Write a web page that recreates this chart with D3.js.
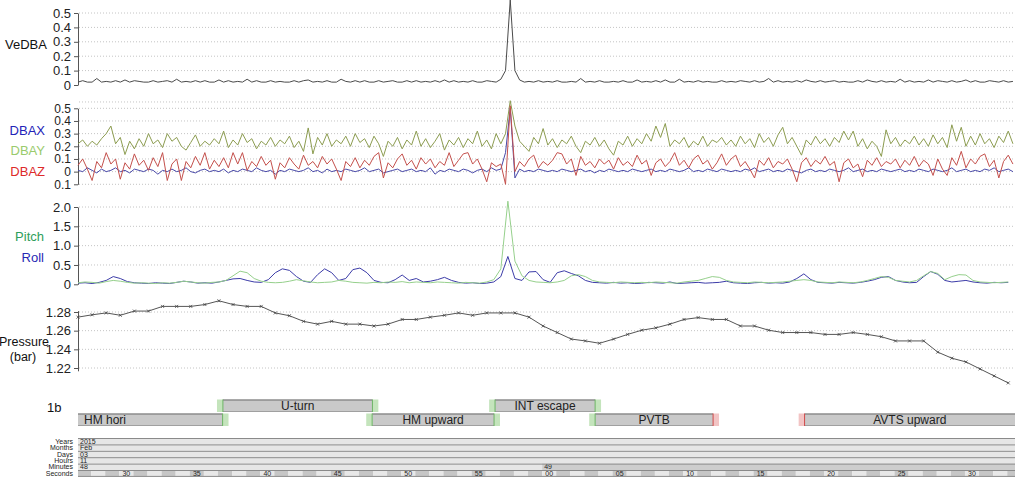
<!DOCTYPE html>
<html lang="en">
<head>
<meta charset="UTF-8">
<title>1b</title>
<style>
  body { margin: 0; background: #fff; }
  svg { font-family: "Liberation Sans", Arial, sans-serif; }
  .grid line { stroke: #c4c4c4; stroke-dasharray: 1 2; }
  .axis path, .axis line { stroke: #555; }
  .axis text { font-size: 13px; fill: #222; }
  .axis.tight text { font-size: 12px; }
  .trace { fill: none; stroke-width: 1; stroke-linejoin: round; }
</style>
</head>
<body>
<div id="chart"></div>
<script src="https://cdnjs.cloudflare.com/ajax/libs/d3/7.8.5/d3.min.js"></script>
<script>
// seconds after 11:48:00 on 2015-02-03
const tStart = 27.07
const tEnd = 93.55

// 3 Hz dynamic body acceleration
const vedba = [0.02,0.03,0.02,0.02,0.045,0.02,0.025,0.02,0.03,0.02,0.035,0.02,0.03,0.025,0.02,0.02,0.03,0.02,0.025,0.03,
  0.02,0.04,0.02,0.025,0.02,0.03,0.02,0.03,0.02,0.02,0.035,0.02,0.03,0.02,0.025,0.02,0.04,0.02,0.03,0.02,
  0.02,0.03,0.02,0.025,0.02,0.02,0.03,0.02,0.03,0.035,0.02,0.025,0.02,0.03,0.02,0.02,0.04,0.025,0.02,0.03,
  0.02,0.03,0.02,0.02,0.03,0.02,0.025,0.03,0.02,0.02,0.03,0.02,0.03,0.02,0.025,0.02,0.03,0.02,0.035,0.02,
  0.03,0.02,0.025,0.02,0.03,0.02,0.02,0.03,0.025,0.02,0.04,0.1,0.59,0.1,0.035,0.02,0.025,0.02,0.03,0.02,
  0.025,0.02,0.03,0.02,0.02,0.025,0.02,0.045,0.02,0.025,0.02,0.03,0.02,0.02,0.025,0.02,0.03,0.02,0.02,0.035,
  0.02,0.025,0.02,0.03,0.02,0.035,0.02,0.02,0.04,0.02,0.025,0.02,0.03,0.02,0.025,0.02,0.02,0.03,0.02,0.025,
  0.02,0.03,0.025,0.02,0.03,0.02,0.025,0.045,0.02,0.03,0.02,0.025,0.02,0.03,0.02,0.035,0.025,0.02,0.03,0.02,
  0.025,0.03,0.02,0.025,0.02,0.02,0.03,0.02,0.035,0.025,0.02,0.03,0.02,0.025,0.02,0.04,0.02,0.03,0.02,0.025,
  0.02,0.035,0.02,0.03,0.025,0.02,0.03,0.02,0.025,0.035,0.02,0.03,0.02,0.02,0.03,0.025,0.02,0.03,0.02,0.025]

const dbax = [0.01,0,0.03,0.01,-0.01,0.02,0,0.01,0.03,0,0.01,-0.01,0.02,0.01,0,0.02,0.01,-0.02,0.01,0,
  0.02,0,0.01,0.03,0,-0.01,0.01,0.02,0,0.01,0,0.02,-0.01,0.01,0,0.02,0.01,0,0.03,0.01,
  0,0.01,-0.02,0.01,0,0.02,0.01,0,0.01,0.03,0,0.01,-0.01,0.02,0,0.01,0,0.02,0.01,0,
  0.01,0.03,0,0.01,0.02,-0.01,0,0.01,0.02,0,0.01,0.02,0,0.01,0,0.03,-0.02,0.01,0,0.02,
  0.01,0,0.02,0.01,-0.01,0.01,0.02,0,0.03,0.01,0.02,0.15,0.5,-0.05,0.02,0,0.01,0,0.02,0.01,
  0,0.01,0,0.02,0.01,0,0.01,0.02,0,0.01,-0.01,0.01,0,0.02,0.01,0,0.01,0,0.02,0.01,
  0,0.01,0.02,0,0.01,0,0.02,0.01,0,0.01,0.03,0,0.01,0,0.02,0.01,0,0.02,0.01,0,
  0.01,0,0.02,0.01,0.03,0,0.01,0.02,0,0.01,0,0.02,0.01,0,-0.01,0.01,0.02,0,0.01,0,
  0.02,0.01,0,0.01,0.03,0,0.01,0.02,0,0.01,0,0.02,0.01,0,0.01,0.02,0,0.01,0,0.02,
  0.01,0,0.02,0.01,0,0.01,0.03,0,0.01,0.02,0,0.01,0,0.02,0.01,0.03,0,0.01,0.02,0]

const dbay = [0.22,0.25,0.2,0.24,0.21,0.26,0.3,0.36,0.22,0.27,
  0.135,0.24,0.18,0.26,0.2,0.3,0.22,0.25,0.19,0.3,
  0.24,0.27,0.2,0.17,0.23,0.29,0.2,0.24,0.21,0.26,
  0.22,0.32,0.19,0.25,0.21,0.3,0.23,0.26,0.18,0.24,
  0.21,0.27,0.2,0.25,0.22,0.28,0.19,0.24,0.16,0.345,
  0.14,0.27,0.21,0.3,0.2,0.25,0.22,0.28,0.2,0.3,
  0.23,0.26,0.19,0.28,0.22,0.12,0.24,0.2,0.27,0.18,
  0.25,0.21,0.32,0.2,0.26,0.19,0.24,0.3,0.17,0.25,
  0.21,0.27,0.19,0.26,0.22,0.32,0.2,0.25,0.18,0.3,
  0.22,0.3,0.56,0.36,0.24,0.2,0.16,0.27,0.22,0.34,
  0.21,0.26,0.19,0.25,0.22,0.28,0.2,0.15,0.24,0.21,
  0.27,0.2,0.25,0.18,0.13,0.24,0.21,0.28,0.2,0.26,
  0.22,0.3,0.24,0.36,0.27,0.38,0.2,0.25,0.22,0.27,
  0.19,0.24,0.21,0.28,0.2,0.25,0.23,0.27,0.21,0.25,
  0.2,0.28,0.22,0.26,0.19,0.3,0.23,0.27,0.2,0.29,
  0.35,0.22,0.27,0.2,0.13,0.25,0.21,0.28,0.22,0.26,
  0.2,0.27,0.23,0.32,0.25,0.32,0.2,0.26,0.18,0.24,
  0.2,0.12,0.33,0.22,0.27,0.2,0.25,0.22,0.28,0.21,
  0.26,0.2,0.29,0.22,0.27,0.19,0.37,0.24,0.35,0.2,
  0.28,0.21,0.3,0.22,0.26,0.19,0.28,0.23,0.32,0.22]

const dbaz = [0.05,0.1,0.02,-0.07,0.08,0.03,0.15,0.06,0.1,-0.06,
  0.07,0.02,0.14,0.05,0.09,0.01,0.11,0.04,0.15,-0.07,
  0.06,0.1,-0.07,0.08,0.03,0.12,0.05,0.15,0.02,0.09,
  0.04,0.11,0.03,0.15,0.06,0.15,0.01,0.08,0.04,0.12,
  0.05,0.09,-0.06,0.07,0.03,0.11,0.06,0.02,0.13,0.05,
  0.08,0.03,0.12,0.06,0.1,0.02,-0.07,0.08,0.04,0.11,
  0.03,0.09,0.05,0.12,0.15,-0.05,0.07,0.03,0.1,0.14,
  0.05,0.09,0.02,0.11,0.06,0.1,0.03,0.08,0.05,0.15,
  0.04,0.09,0.14,0.15,0.06,0.1,0.02,-0.08,0.07,0.04,
  0.06,-0.1,0.52,0,0.08,0.04,0.1,0.13,0.03,0.08,
  0.05,0.09,0.15,0.14,0.06,0.1,-0.03,0.12,0.05,0.08,
  0.03,0.1,0.06,0.09,0.02,0.11,0.05,0.08,0.04,0.13,
  0.06,0.09,-0.03,0.07,0.1,0.04,0.08,0.15,0.05,0.09,
  0.03,0.1,0.13,0.06,0.09,0.02,0.07,0.14,0.05,0.1,
  0.13,0.04,0.08,0.02,-0.05,0.09,0.05,0.11,0.03,0.08,
  0.06,0.1,0.02,-0.08,0.07,0.11,0.04,0.09,0.06,0.12,
  0.05,0.08,-0.08,0.07,0.1,0.03,0.06,-0.04,0.09,0.05,
  0.11,0.04,0.08,0.06,0.1,0.03,0.09,0.05,0.12,0.04,
  0.09,0.06,-0.03,0.1,0.02,-0.03,0.11,0.05,0.16,0.03,
  0.1,0.06,0.12,0.14,0.04,0.09,-0.05,0.08,0.13,0.06]

// 2 Hz attitude change
const pitch = [0.04,0.06,0.05,0.03,0.07,0.1,0.08,0.05,0.03,0.04,
  0.03,0.02,0.04,0.03,0.05,0.08,0.06,0.04,0.03,0.05,
  0.06,0.1,0.22,0.34,0.3,0.15,0.08,0.05,0.04,0.05,
  0.08,0.12,0.09,0.06,0.04,0.05,0.06,0.1,0.08,0.05,
  0.04,0.03,0.05,0.04,0.06,0.05,0.07,0.04,0.06,0.05,
  0.04,0.06,0.05,0.04,0.03,0.05,0.04,0.03,0.06,0.12,
  0.4,2.15,0.6,0.22,0.1,0.06,0.05,0.04,0.06,0.1,
  0.22,0.25,0.2,0.1,0.06,0.05,0.04,0.06,0.05,0.04,
  0.05,0.04,0.06,0.05,0.04,0.03,0.06,0.08,0.1,0.15,
  0.2,0.18,0.1,0.06,0.05,0.04,0.06,0.05,0.04,0.05,
  0.06,0.08,0.1,0.12,0.1,0.06,0.05,0.04,0.06,0.05,
  0.04,0.06,0.1,0.15,0.2,0.18,0.1,0.08,0.06,0.1,
  0.22,0.33,0.28,0.12,0.2,0.25,0.24,0.1,0.06,0.05,0.04,0.05,0.06]

const roll = [0.03,0.04,0.02,0.05,0.1,0.2,0.15,0.07,0.04,0.03,
  0.02,0.04,0.03,0.02,0.05,0.08,0.06,0.03,0.04,0.03,
  0.06,0.1,0.14,0.15,0.1,0.06,0.05,0.12,0.3,0.4,
  0.36,0.2,0.08,0.05,0.25,0.4,0.3,0.1,0.15,0.38,
  0.42,0.3,0.1,0.05,0.04,0.12,0.24,0.1,0.15,0.06,
  0.08,0.12,0.18,0.1,0.05,0.03,0.04,0.02,0.03,0.06,
  0.2,0.72,0.15,0.1,0.32,0.33,0.12,0.05,0.3,0.35,
  0.28,0.22,0.1,0.05,0.04,0.03,0.05,0.03,0.04,0.02,
  0.03,0.05,0.04,0.03,0.06,0.02,0.03,0.04,0.05,0.03,
  0.04,0.05,0.08,0.04,0.03,0.02,0.04,0.05,0.03,0.04,
  0.03,0.06,0.15,0.27,0.12,0.05,0.04,0.03,0.05,0.04,
  0.03,0.05,0.08,0.12,0.18,0.2,0.1,0.06,0.04,0.05,
  0.2,0.33,0.26,0.1,0.06,0.08,0.1,0.06,0.04,0.03,0.05,0.04,0.05]

// 1 Hz depth pressure (bar)
const pressure = [1.2745,1.277,1.279,1.2765,1.281,1.281,1.286,1.286,1.286,1.288,
  1.292,1.288,1.286,1.286,1.279,1.276,1.27,1.267,1.27,1.267,
  1.267,1.265,1.267,1.272,1.272,1.2745,1.2765,1.279,1.2765,1.279,
  1.279,1.279,1.2745,1.265,1.258,1.251,1.249,1.2465,1.251,1.256,
  1.2605,1.263,1.267,1.272,1.274,1.272,1.272,1.265,1.265,1.2605,
  1.258,1.258,1.258,1.256,1.256,1.258,1.256,1.2535,1.249,1.249,
  1.249,1.237,1.2305,1.2265,1.219,1.2115,1.204]

// behaviour events (seconds after 11:48:00)
const eventNames = ['HM hori', 'U-turn', 'HM upward', 'INT escape', 'PVTB', 'AVTS upward']
const eventStart = [27.07, 37.35, 47.94, 56.66, 63.76, 78.62]
const eventEnd = [37.33, 47.96, 56.59, 63.76, 72.13, 93.55]
const eventRow = [1, 0, 1, 0, 1, 1]
const startMark = [null, 'g', 'g', 'g', 'g', 'r']
const endMark = ['g', 'g', 'g', 'g', 'r', null]

const sec = s => new Date(2015, 1, 3, 11, 48, 0, Math.round(s * 1000))

const W = 1020, H = 480
const left = 78, right = 1015

const x = d3.scaleTime().domain([sec(tStart), sec(tEnd)]).range([left, right])

const svg = d3.select('#chart').append('svg')
  .attr('width', W).attr('height', H)

const line = (y) => d3.line().x(d => x(d.t)).y(d => y(d.v))

function series(values, hz) {
  return values.map((v, i) => ({ t: sec(tStart + i / hz), v: v }))
}

function panel(domain, rangeY, ticks, fmt, gridTicks, cls) {
  const y = d3.scaleLinear().domain(domain).range(rangeY)
  const g = svg.append('g')
  g.append('g').attr('class', 'grid')
    .selectAll('line').data(gridTicks).join('line')
    .attr('x1', left + 1).attr('x2', right)
    .attr('y1', d => y(d)).attr('y2', d => y(d))
  g.append('g').attr('class', 'axis ' + (cls || ''))
    .attr('transform', `translate(${left},0)`)
    .call(d3.axisLeft(y).tickValues(ticks).tickFormat(fmt).tickSize(4).tickSizeOuter(0).tickPadding(3))
  return { y, g }
}

const f1 = d => d === 0 ? '0' : d3.format('.1f')(Math.abs(d))

// VeDBA
const p1 = panel([0, 0.5], [85, 13], [0, 0.1, 0.2, 0.3, 0.4, 0.5], f1, [0.1, 0.2, 0.3, 0.4, 0.5])
p1.g.append('path').attr('class', 'trace').attr('stroke', '#4a4a4a')
  .attr('d', line(p1.y)(series(vedba, 3)))

// DBA per axis
const p2 = panel([-0.1, 0.5], [184.3, 108.3], [-0.1, 0, 0.1, 0.2, 0.3, 0.4, 0.5], f1,
  [-0.1, 0, 0.1, 0.2, 0.3, 0.4, 0.5, 0.55], 'tight')
p2.g.append('path').attr('class', 'trace').attr('stroke', '#8c9c50')
  .attr('d', line(p2.y)(series(dbay, 3)))
p2.g.append('path').attr('class', 'trace').attr('stroke', '#4848a8')
  .attr('d', line(p2.y)(series(dbax, 3)))
p2.g.append('path').attr('class', 'trace').attr('stroke', '#c4504c')
  .attr('d', line(p2.y)(series(dbaz, 3)))

// pitch / roll
const p3 = panel([0, 2], [284.3, 207], [0, 0.5, 1, 1.5, 2], d => d === 0 ? '0' : d3.format('.1f')(d),
  [0.5, 1, 1.5, 2])
p3.g.append('path').attr('class', 'trace').attr('stroke', '#3c3ca8')
  .attr('d', line(p3.y)(series(roll, 2)))
p3.g.append('path').attr('class', 'trace').attr('stroke', '#96d08c')
  .attr('d', line(p3.y)(series(pitch, 2)))

// pressure
const p4 = panel([1.217, 1.2815], [370.8, 310.6], [1.22, 1.24, 1.26, 1.28], d3.format('.2f'),
  [1.22, 1.24, 1.26, 1.28])
const pData = series(pressure, 1)
p4.g.append('path').attr('class', 'trace').attr('stroke', '#555')
  .attr('d', line(p4.y)(pData))
p4.g.selectAll('.mk').data(pData).join('path')
  .attr('class', 'mk')
  .attr('d', d => {
    const cx = x(d.t), cy = p4.y(d.v)
    return `M${cx - 1.5},${cy - 1.5}L${cx + 1.5},${cy + 1.5}M${cx - 1.5},${cy + 1.5}L${cx + 1.5},${cy - 1.5}`
  })
  .attr('stroke', '#444').attr('stroke-width', 0.8)

// left labels
const labels = [
  { t: 'VeDBA', x: 26, y: 49, c: '#111', a: 'middle', s: 13 },
  { t: 'DBAX', x: 45, y: 135, c: '#2323b8', a: 'end', s: 13 },
  { t: 'DBAY', x: 45, y: 155, c: '#9acb6c', a: 'end', s: 13 },
  { t: 'DBAZ', x: 45, y: 176, c: '#dd2a2a', a: 'end', s: 13 },
  { t: 'Pitch', x: 44, y: 241, c: '#2e9e5a', a: 'end', s: 13 },
  { t: 'Roll', x: 44, y: 262, c: '#2828b4', a: 'end', s: 13 },
  { t: 'Pressure', x: 24, y: 346, c: '#111', a: 'middle', s: 12.5 },
  { t: '(bar)', x: 23, y: 361, c: '#111', a: 'middle', s: 12.5 },
  { t: '1b', x: 47, y: 412, c: '#111', a: 'start', s: 13 }
]
svg.append('g').selectAll('text').data(labels).join('text')
  .attr('x', d => d.x).attr('y', d => d.y)
  .attr('text-anchor', d => d.a).attr('fill', d => d.c)
  .style('font-size', d => d.s + 'px').text(d => d.t)

// events
const rowY = [399.5, 413.5], rowH = 12.5
const markW = 0.42
const markFill = { g: '#c4e4bc', r: '#f2c4c4' }
const markLine = { g: '#6cb464', r: '#d04848' }
const ev = eventNames.map((n, i) => ({
  name: n, s: eventStart[i], e: eventEnd[i], row: eventRow[i], sm: startMark[i], em: endMark[i]
}))
const eg = svg.append('g')
ev.forEach(d => {
  const y0 = rowY[d.row]
  const x0 = x(sec(d.s)), x1 = x(sec(d.e))
  eg.append('rect').attr('x', x0).attr('y', y0).attr('width', x1 - x0).attr('height', rowH)
    .attr('fill', '#c9c9c9')
  eg.append('line').attr('x1', x0).attr('x2', x1).attr('y1', y0 + 0.5).attr('y2', y0 + 0.5)
    .attr('stroke', '#6e6e6e')
  eg.append('line').attr('x1', x0).attr('x2', x1).attr('y1', y0 + rowH - 0.5).attr('y2', y0 + rowH - 0.5)
    .attr('stroke', '#a0a0a0')
  if (d.sm) {
    const m0 = x(sec(d.s - markW))
    eg.append('rect').attr('x', m0).attr('y', y0).attr('width', x0 - m0).attr('height', rowH)
      .attr('fill', markFill[d.sm])
    eg.append('line').attr('x1', x0).attr('x2', x0).attr('y1', y0).attr('y2', y0 + rowH)
      .attr('stroke', markLine[d.sm])
  }
  if (d.em) {
    const m1 = x(sec(d.e + markW))
    eg.append('rect').attr('x', x1).attr('y', y0).attr('width', m1 - x1).attr('height', rowH)
      .attr('fill', markFill[d.em])
    eg.append('line').attr('x1', x1).attr('x2', x1).attr('y1', y0).attr('y2', y0 + rowH)
      .attr('stroke', markLine[d.em])
  }
  const isFirst = d.s <= tStart
  eg.append('text')
    .attr('x', isFirst ? x0 + 6 : (x0 + x1) / 2)
    .attr('y', y0 + rowH / 2 + 4.5)
    .attr('text-anchor', isFirst ? 'start' : 'middle')
    .attr('fill', '#222').style('font-size', '12px')
    .text(d.name)
})

// time axis rows
const trows = ['Years', 'Months', 'Days', 'Hours', 'Minutes', 'Seconds']
const tTop = 438, tH = 6.4
const tg = svg.append('g')
trows.forEach((r, i) => {
  tg.append('text').attr('x', 73).attr('y', tTop + (i + 1) * tH - 0.6)
    .attr('text-anchor', 'end').attr('fill', '#222').style('font-size', '7px').text(r)
})
const rowInfo = [
  { fmt: d3.timeFormat('%Y'), iv: d3.timeYear },
  { fmt: d3.timeFormat('%b'), iv: d3.timeMonth },
  { fmt: d3.timeFormat('%d'), iv: d3.timeDay },
  { fmt: d3.timeFormat('%H'), iv: d3.timeHour },
  { fmt: d3.timeFormat('%M'), iv: d3.timeMinute }
]
const [d0, d1] = x.domain()
rowInfo.forEach((ri, i) => {
  const y0 = tTop + i * tH
  const bounds = [d0].concat(ri.iv.range(ri.iv.ceil(d0), d1)).concat([d1])
  for (let k = 0; k < bounds.length - 1; k++) {
    if (+bounds[k] === +bounds[k + 1]) continue
    const xa = x(bounds[k]), xb = x(bounds[k + 1])
    const idx = ri.iv.count(ri.iv.floor(d0), bounds[k])
    tg.append('rect').attr('x', xa).attr('y', y0).attr('width', xb - xa).attr('height', tH)
      .attr('fill', idx % 2 ? '#cdcdcd' : '#e6e6e6')
    tg.append('text').attr('x', xa + 2).attr('y', y0 + tH - 0.6)
      .attr('fill', '#222').style('font-size', '7px').text(ri.fmt(bounds[k]))
  }
  tg.append('line').attr('x1', left).attr('x2', right).attr('y1', y0 + 0.5).attr('y2', y0 + 0.5)
    .attr('stroke', '#8a8a8a')
})
// seconds
const sy = tTop + 5 * tH
const secs = d3.timeSecond.range(d3.timeSecond.floor(d0), d1)
secs.forEach(s => {
  const xa = Math.max(left, x(s)), xb = Math.min(right, x(d3.timeSecond.offset(s, 1)))
  tg.append('rect').attr('x', xa).attr('y', sy).attr('width', xb - xa).attr('height', tH)
    .attr('fill', s.getSeconds() % 2 ? '#c6c6c6' : '#e8e8e8')
  if (s.getSeconds() % 5 === 0) {
    tg.append('text').attr('x', (x(s) + x(d3.timeSecond.offset(s, 1))) / 2).attr('y', sy + tH - 0.6)
      .attr('text-anchor', 'middle').attr('fill', '#222').style('font-size', '7px')
      .text(d3.timeFormat('%S')(s))
  }
})
tg.append('line').attr('x1', left).attr('x2', right).attr('y1', sy + 0.5).attr('y2', sy + 0.5)
  .attr('stroke', '#8a8a8a')
tg.append('line').attr('x1', left).attr('x2', right).attr('y1', sy + tH).attr('y2', sy + tH)
  .attr('stroke', '#8a8a8a')
</script>
</body>
</html>
